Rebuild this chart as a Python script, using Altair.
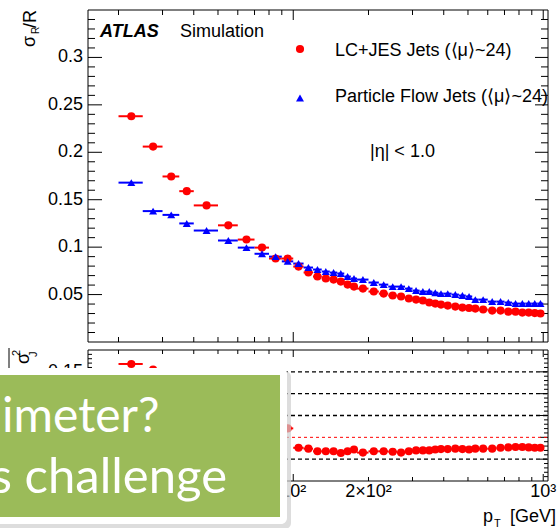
import altair as alt
import pandas as pd

# ---------------- data ----------------
pt_lo = [20, 25, 30, 35, 40, 50, 60, 70, 80, 90,
         100, 110, 120, 130, 140, 150, 160, 170, 180, 200, 220, 240, 260, 280, 300,
         320, 340, 360, 380, 400, 430, 460, 490, 520, 550, 600, 650, 700, 750, 800,
         850, 900, 950]
pt_hi = [25, 30, 35, 40, 50, 60, 70, 80, 90, 100,
         110, 120, 130, 140, 150, 160, 170, 180, 200, 220, 240, 260, 280, 300, 320,
         340, 360, 380, 400, 430, 460, 490, 520, 550, 600, 650, 700, 750, 800, 850,
         900, 950, 1000]
pt_c = [22.5, 27.5, 32.5, 37.5, 45, 55, 65, 75, 85, 95,
        105, 115, 125, 135, 145, 155, 165, 175, 190, 210, 230, 250, 270, 290, 310,
        330, 350, 370, 390, 415, 445, 475, 505, 535, 575, 625, 675, 725, 775, 825,
        875, 925, 975]
lc_jes = [0.238, 0.206, 0.1745, 0.159, 0.144, 0.123, 0.108, 0.0995, 0.088, 0.088,
          0.0795, 0.0733, 0.069, 0.0669, 0.0658, 0.0637, 0.0605, 0.0584, 0.0563, 0.0532,
          0.051, 0.049, 0.048, 0.0458, 0.0447, 0.0437, 0.0416, 0.0405, 0.0394, 0.0384,
          0.0373, 0.0363, 0.0358, 0.0352, 0.0342, 0.0331, 0.0331, 0.032, 0.032, 0.031,
          0.031, 0.0305, 0.030]
pflow = [0.168, 0.138, 0.134, 0.125, 0.1175, 0.107, 0.0995, 0.093, 0.090, 0.085,
         0.0827, 0.0785, 0.0764, 0.0743, 0.0732, 0.0722, 0.069, 0.0669, 0.0658, 0.0627,
         0.0605, 0.0584, 0.0584, 0.0563, 0.0542, 0.0532, 0.0532, 0.052, 0.051, 0.051,
         0.050, 0.049, 0.048, 0.0447, 0.0447, 0.0426, 0.0426, 0.0416, 0.0405, 0.0405,
         0.0405, 0.0405, 0.0405]
diff = [0.168, 0.155, 0.112, 0.098, 0.083, 0.061, 0.042, 0.035, 0.012, 0.0205,
        -0.024, -0.026, -0.032, -0.032, -0.032, -0.036, -0.032, -0.028, -0.035, -0.032,
        -0.032, -0.033, -0.035, -0.032, -0.030, -0.030, -0.030, -0.028, -0.027, -0.027,
        -0.026, -0.027, -0.028, -0.026, -0.026, -0.026, -0.024, -0.023, -0.022, -0.022,
        -0.023, -0.024, -0.024]

top_y_major = [0.05, 0.1, 0.15, 0.2, 0.25, 0.3]
top_y_labels = ["0.05", "0.1", "0.15", "0.2", "0.25", "0.3"]
top_y_minor = [round(i * 0.01, 2) for i in range(1, 35) if i % 5]
bot_y_major = [-0.05, 0.0, 0.05, 0.1, 0.15]
bot_y_label_vals = [0.15]          # the only bottom-panel label not hidden by the box
bot_y_labels = ["0.15"]
bot_y_minor = [round(i * 0.01, 2) for i in range(-9, 20) if i % 5]
x_major = [100, 1000]
x_minor = [20, 30, 40, 50, 60, 70, 80, 90, 200, 300, 400, 500, 600, 700, 800, 900]
x_label_vals = [100, 200, 1000]
x_labels = ["10²", "2×10²", "10³"]
dash_black = [-0.05, 0.05, 0.1, 0.15]
dash_red = [0.0]

legend_labels = ["LC+JES Jets (⟨μ⟩~24)", "Particle Flow Jets (⟨μ⟩~24)"]
box_lines = ["imeter?", "s challenge"]

# ---------------- geometry ----------------
W = 460
H = 471
TOP_B = 332
BOT_T = 340
FONT = "Liberation Sans, Arial, Helvetica, sans-serif"

xs = alt.Scale(type="log", domain=[15.1, 1045], nice=False)
ytop = alt.Scale(domain=[-0.14654, 0.35], nice=False, zero=False)
ybot = alt.Scale(domain=[-0.1, 0.9786], nice=False, zero=False)

df = pd.DataFrame({"pt": pt_c, "lo": pt_lo, "hi": pt_hi,
                   "lc": lc_jes, "pf": pflow, "d": diff})
one = pd.DataFrame({"k": [0]})


def yrules(vals, scale, x0, x1, width=1, **kw):
    return alt.Chart(pd.DataFrame({"v": vals})).mark_rule(
        color="black", strokeWidth=width, **kw).encode(
        y=alt.Y("v:Q", scale=scale, axis=None),
        x=alt.value(x0), x2=alt.value(x1))


def xrules(vals, y0, y1):
    return alt.Chart(pd.DataFrame({"v": vals})).mark_rule(
        color="black", strokeWidth=1).encode(
        x=alt.X("v:Q", scale=xs, axis=None),
        y=alt.value(y0), y2=alt.value(y1))


def txt(text, x, y, size=18, align="left", **kw):
    return alt.Chart(one).mark_text(
        text=text, font=FONT, fontSize=size, color="black", align=align,
        baseline="alphabetic", **kw).encode(x=alt.value(x), y=alt.value(y))


def box(x0, x1, y0, y1, **kw):
    return alt.Chart(one).mark_rect(**kw).encode(
        x=alt.value(x0), x2=alt.value(x1), y=alt.value(y0), y2=alt.value(y1))


CIRCLE = 66
TRI = 64

# ---------------- top panel ----------------
top = alt.layer(
    box(0, W, 0, TOP_B, fillOpacity=0, stroke="black", strokeWidth=1),
    yrules(top_y_major, ytop, 0, 14),
    yrules(top_y_minor, ytop, 0, 7),
    yrules(top_y_major, ytop, W, W - 13),
    yrules(top_y_minor, ytop, W, W - 7),
    xrules(x_major, 0, 10), xrules(x_minor, 0, 5),
    xrules(x_major, TOP_B, TOP_B - 10), xrules(x_minor, TOP_B, TOP_B - 5),
    alt.Chart(pd.DataFrame({"v": top_y_major, "t": top_y_labels})).mark_text(
        font=FONT, fontSize=18, align="right", baseline="middle", color="black").encode(
        y=alt.Y("v:Q", scale=ytop, axis=None), x=alt.value(-5), text="t:N"),
    alt.Chart(df).mark_rule(color="red", strokeWidth=2).encode(
        x=alt.X("lo:Q", scale=xs, axis=None), x2="hi:Q",
        y=alt.Y("lc:Q", scale=ytop, axis=None)),
    alt.Chart(df).mark_rule(color="blue", strokeWidth=2).encode(
        x=alt.X("lo:Q", scale=xs, axis=None), x2="hi:Q",
        y=alt.Y("pf:Q", scale=ytop, axis=None)),
    alt.Chart(df).mark_circle(color="red", size=CIRCLE, opacity=1).encode(
        x=alt.X("pt:Q", scale=xs, axis=None),
        y=alt.Y("lc:Q", scale=ytop, axis=None)),
    alt.Chart(df).mark_point(shape="triangle-up", filled=True, color="blue",
                             size=TRI, opacity=1).encode(
        x=alt.X("pt:Q", scale=xs, axis=None),
        y=alt.Y("pf:Q", scale=ytop, axis=None)),
)

# ---------------- bottom panel ----------------
bot = alt.layer(
    box(0, W, BOT_T, H, fillOpacity=0, stroke="black", strokeWidth=1),
    yrules(bot_y_major, ybot, 0, 8),
    yrules(bot_y_minor, ybot, 0, 4),
    yrules(bot_y_major, ybot, W, W - 8),
    yrules(bot_y_minor, ybot, W, W - 4),
    xrules(x_major, BOT_T, BOT_T + 7), xrules(x_minor, BOT_T, BOT_T + 4),
    xrules(x_major, H, H - 7), xrules(x_minor, H, H - 4),
    yrules(dash_black, ybot, 0, W, width=1.3, strokeDash=[4, 3]),
    alt.Chart(pd.DataFrame({"v": dash_red})).mark_rule(
        color="red", strokeWidth=1, strokeDash=[3, 3]).encode(
        y=alt.Y("v:Q", scale=ybot, axis=None), x=alt.value(0), x2=alt.value(W)),
    alt.Chart(pd.DataFrame({"v": bot_y_label_vals, "t": bot_y_labels})).mark_text(
        font=FONT, fontSize=18, align="right", baseline="middle", color="black").encode(
        y=alt.Y("v:Q", scale=ybot, axis=None), x=alt.value(-5), text="t:N"),
    alt.Chart(pd.DataFrame({"v": x_label_vals, "t": x_labels})).mark_text(
        font=FONT, fontSize=18, align="center", baseline="alphabetic", color="black").encode(
        x=alt.X("v:Q", scale=xs, axis=None), y=alt.value(487), text="t:N"),
    alt.Chart(df).mark_rule(color="red", strokeWidth=2).encode(
        x=alt.X("lo:Q", scale=xs, axis=None), x2="hi:Q",
        y=alt.Y("d:Q", scale=ybot, axis=None)),
    alt.Chart(df).mark_circle(color="red", size=CIRCLE, opacity=1).encode(
        x=alt.X("pt:Q", scale=xs, axis=None),
        y=alt.Y("d:Q", scale=ybot, axis=None)),
)

# ---------------- annotations ----------------
annot = [
    txt("ATLAS", 12, 27, fontStyle="italic", fontWeight="bold"),
    txt("Simulation", 92, 27),
    alt.Chart(one).mark_circle(color="red", size=CIRCLE, opacity=1).encode(
        x=alt.value(212), y=alt.value(39)),
    txt(legend_labels[0], 247, 46),
    alt.Chart(one).mark_point(shape="triangle-up", filled=True, color="blue",
                              size=TRI, opacity=1).encode(
        x=alt.value(212), y=alt.value(88)),
    txt(legend_labels[1], 247, 92),
    txt("|η| < 1.0", 282, 147),
    # y title top: sigma_R / R
    txt("σ", -53, 37, angle=270),
    txt("R", -49, 24, size=10, angle=270),
    txt("/R", -52, 18, angle=270),
    # y title bottom (partially visible)
    alt.Chart(one).mark_rule(color="black", strokeWidth=1).encode(
        x=alt.value(-79), y=alt.value(338), y2=alt.value(370)),
    txt("σ", -59, 354, angle=270),
    txt("2", -68, 346, size=11, angle=270),
    txt("J", -51, 347, size=11, angle=270),
    # x title
    txt("p", 395, 512),
    txt("T", 406, 517, size=11),
    txt("[GeV]", 468, 512, align="right"),
]

overlay = [
    box(-100, 203, 361, 519, color="#cfcfcf", cornerRadius=6, opacity=0.7),
    box(-100, 199, 358, 514, color="#ffffff", cornerRadius=6),
    box(-100, 192, 365, 507, color="#9bbb59"),
    alt.Chart(one).mark_text(text=box_lines[0], font="Lato", fontSize=48, color="white",
                             align="left", baseline="alphabetic").encode(
        x=alt.value(-86), y=alt.value(422)),
    alt.Chart(one).mark_text(text=box_lines[1], font="Lato", fontSize=49, color="white",
                             align="right", baseline="alphabetic").encode(
        x=alt.value(139), y=alt.value(483)),
]

chart = alt.layer(top, bot, *annot, *overlay).resolve_scale(
    y="independent"
).properties(
    width=W, height=H,
    autosize=alt.AutoSizeParams(type="none"),
    padding={"left": 88, "top": 10, "right": 9, "bottom": 47},
    background="white",
).configure_view(stroke=None)

chart.save("out.html", embed_options={"renderer": "svg", "actions": False})
